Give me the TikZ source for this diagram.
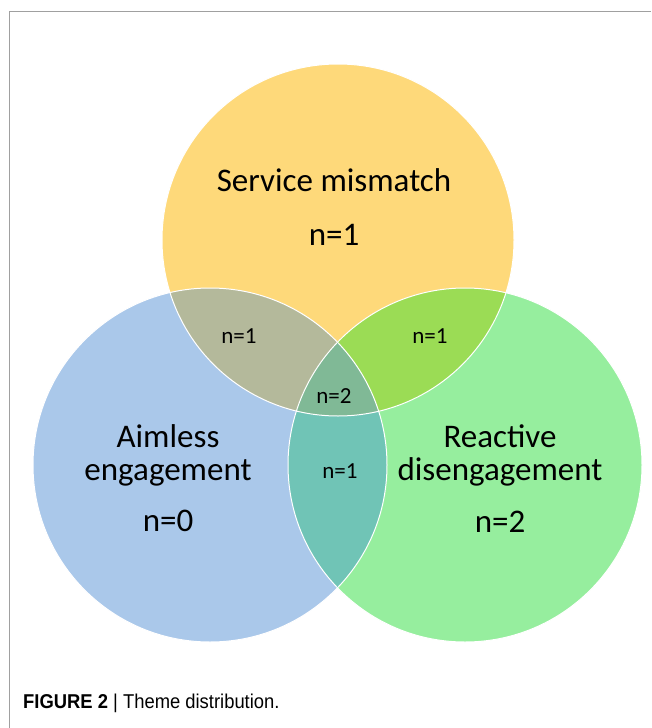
\documentclass[tikz,border=0pt]{standalone}
\usepackage{fontspec}
\setmainfont{Carlito}
\newfontfamily\capfont[FakeStretch=0.92]{Liberation Sans}
\usepackage{xcolor}
\usetikzlibrary{positioning}

\definecolor{gelb}{RGB}{254,217,122}
\definecolor{blau}{RGB}{170,200,234}
\definecolor{gruen}{RGB}{150,238,158}
\definecolor{gelbblau}{RGB}{180,185,155}
\definecolor{gelbgruen}{RGB}{155,220,85}
\definecolor{blaugruen}{RGB}{112,196,182}
\definecolor{alle}{RGB}{128,185,150}
\definecolor{rahmen}{RGB}{160,160,160}

\begin{document}
\begin{tikzpicture}[x=1pt,y=-1pt,
    gross/.style={font=\fontsize{33}{33}\selectfont, align=center, inner sep=0pt, anchor=base},
    klein/.style={font=\fontsize{23}{24}\selectfont, inner sep=0pt, anchor=base},
    rand/.style={white, line width=1pt}]
        \useasboundingbox (0,0) rectangle (651,728);
        % Rahmen
        \draw[rahmen, line width=1pt] (9,728) -- (9,11) -- (651,11);
        % Kreise
        \fill[gelb] (338,240) circle[radius=176pt];
        \fill[blau] (210,465) circle[radius=177pt];
        \fill[gruen] (465,465) circle[radius=177pt];
        % Schnittmenge gelb - blau
        \begin{scope}
            \clip (338,240) circle[radius=176pt];
            \fill[gelbblau] (210,465) circle[radius=177pt];
        \end{scope}
        % Schnittmenge gelb - gruen
        \begin{scope}
            \clip (338,240) circle[radius=176pt];
            \fill[gelbgruen] (465,465) circle[radius=177pt];
        \end{scope}
        % Schnittmenge blau - gruen
        \begin{scope}
            \clip (210,465) circle[radius=177pt];
            \fill[blaugruen] (465,465) circle[radius=177pt];
        \end{scope}
        % Mitte
        \begin{scope}
            \clip (338,240) circle[radius=176pt];
            \clip (210,465) circle[radius=177pt];
            \fill[alle] (465,465) circle[radius=177pt];
        \end{scope}
        % Kreisraender
        \draw[rand] (338,240) circle[radius=176pt];
        \draw[rand] (210,465) circle[radius=177pt];
        \draw[rand] (465,465) circle[radius=177pt];
        % Service mismatch
        \node[gross] (service) at (334,191) {Service mismatch};
        \node[gross] (nservice) at (334,245) {n=1};
        % Aimless engagement (base = letzte Zeile)
        \node[gross] (aimless) at (168,480) {Aimless\\engagement};
        \node[gross] (naimless) at (168,531) {n=0};
        % Reactive disengagement
        \node[gross] (reactive) at (500,480) {Reactive\\disengagement};
        \node[gross] (nreactive) at (500,532) {n=2};
        % Schnittmengen
        \node[klein] (ngb) at (239,343) {n=1};
        \node[klein] (ngg) at (430,343) {n=1};
        \node[klein] (nalle) at (334,403) {n=2};
        \node[klein] (nbg) at (340,478) {n=1};
        % Bildunterschrift
        \node[anchor=base west, inner sep=0pt, font=\capfont\fontsize{20}{22}\selectfont] (caption) at (23,708)
            {\textbf{FIGURE 2} | Theme distribution.};
\end{tikzpicture}
\end{document}
